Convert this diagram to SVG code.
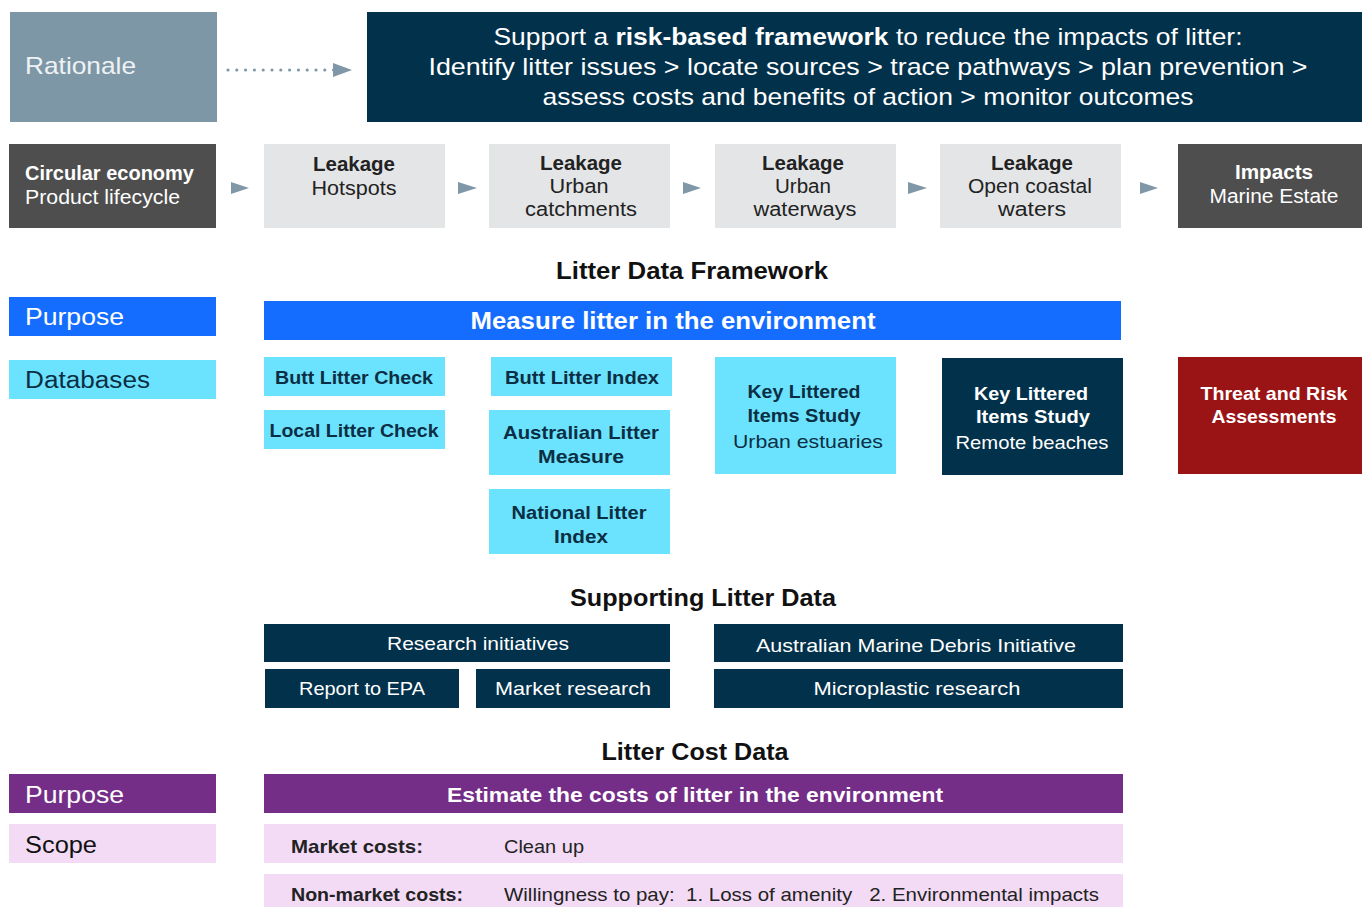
<svg xmlns="http://www.w3.org/2000/svg" width="1362" height="907" viewBox="0 0 1362 907">
<style>
text{font-family:"Liberation Sans",Arial,sans-serif;}
.b{font-weight:bold;}
.m{text-anchor:middle;}
.w{fill:#ffffff;}
.k{fill:#222222;}
.d{fill:#0b2e44;}
.navy{fill:#02314b;}
.cyan{fill:#6be3fe;}
.grey{fill:#e4e5e7;}
.dgrey{fill:#4e4e4e;}
.blue{fill:#146dff;}
.purple{fill:#742e87;}
.pink{fill:#f3dbf6;}
.red{fill:#9a1415;}
.f24{font-size:24px;}
.f20{font-size:20px;}
.f19{font-size:19px;}
.f23{font-size:23px;}
</style>
<defs>
<marker id="tri" viewBox="0 0 10 10" refX="10" refY="5" markerWidth="10" markerHeight="10" markerUnits="userSpaceOnUse" orient="auto"><path d="M0,0 L10,5 L0,10 z" fill="#7f97a6"/></marker>
</defs>

<g id="connectors" fill="#7f97a6">
<line x1="228" y1="70" x2="334" y2="70" stroke="#7f97a6" stroke-width="3.2" stroke-linecap="round" stroke-dasharray="0 8.8"/>
<path d="M333,63 L352,70 L333,77 z"/>
<path d="M231,182 L249,188 L231,194 z"/>
<path d="M458,182 L477,188 L458,194 z"/>
<path d="M683,182 L701,188 L683,194 z"/>
<path d="M908,182 L927,188 L908,194 z"/>
<path d="M1140,182 L1158,188 L1140,194 z"/>
</g>

<g id="rationale"><rect x="10" y="12" width="207" height="110" fill="#7e97a6"/><text x="25" y="74" class="f24" fill="#eef2f4" lengthAdjust="spacingAndGlyphs" textLength="111">Rationale</text></g>
<g id="framework-goal"><rect x="367" y="12" width="995" height="110" class="navy"/>
<text x="868" y="45" class="f24 w m" lengthAdjust="spacingAndGlyphs" textLength="749">Support a <tspan class="b">risk-based framework</tspan> to reduce the impacts of litter:</text>
<text x="868" y="75" class="f24 w m" lengthAdjust="spacingAndGlyphs" textLength="879">Identify litter issues &gt; locate sources &gt; trace pathways &gt; plan prevention &gt;</text>
<text x="868" y="105" class="f24 w m" lengthAdjust="spacingAndGlyphs" textLength="651">assess costs and benefits of action &gt; monitor outcomes</text></g>

<g id="circular"><rect x="9" y="144" width="207" height="84" class="dgrey"/>
<text x="25" y="180" class="f20 w b" lengthAdjust="spacingAndGlyphs" textLength="169">Circular economy</text>
<text x="25" y="204" class="f20 w" lengthAdjust="spacingAndGlyphs" textLength="155">Product lifecycle</text></g>
<g id="hotspots"><rect x="264" y="144" width="181" height="84" class="grey"/>
<text x="354" y="171" class="f20 k b m" lengthAdjust="spacingAndGlyphs" textLength="82">Leakage</text>
<text x="354" y="195" class="f20 k m" lengthAdjust="spacingAndGlyphs" textLength="85">Hotspots</text></g>
<g id="catchments"><rect x="489" y="144" width="181" height="84" class="grey"/>
<text x="581" y="170" class="f20 k b m" lengthAdjust="spacingAndGlyphs" textLength="82">Leakage</text>
<text x="579" y="193" class="f20 k m" lengthAdjust="spacingAndGlyphs" textLength="59">Urban</text>
<text x="581" y="216" class="f20 k m" lengthAdjust="spacingAndGlyphs" textLength="112">catchments</text></g>
<g id="waterways"><rect x="715" y="144" width="181" height="84" class="grey"/>
<text x="803" y="170" class="f20 k b m" lengthAdjust="spacingAndGlyphs" textLength="82">Leakage</text>
<text x="803" y="193" class="f20 k m" lengthAdjust="spacingAndGlyphs" textLength="56">Urban</text>
<text x="805" y="216" class="f20 k m" lengthAdjust="spacingAndGlyphs" textLength="103">waterways</text></g>
<g id="coastal"><rect x="940" y="144" width="181" height="84" class="grey"/>
<text x="1032" y="170" class="f20 k b m" lengthAdjust="spacingAndGlyphs" textLength="82">Leakage</text>
<text x="1030" y="193" class="f20 k m" lengthAdjust="spacingAndGlyphs" textLength="124">Open coastal</text>
<text x="1032" y="216" class="f20 k m" lengthAdjust="spacingAndGlyphs" textLength="68">waters</text></g>
<g id="impacts"><rect x="1178" y="144" width="184" height="84" class="dgrey"/>
<text x="1274" y="179" class="f20 w b m" lengthAdjust="spacingAndGlyphs" textLength="78">Impacts</text>
<text x="1274" y="203" class="f20 w m" lengthAdjust="spacingAndGlyphs" textLength="129">Marine Estate</text></g>

<g id="title-framework"><text x="692" y="279" class="f23 b m" fill="#111" lengthAdjust="spacingAndGlyphs" textLength="272">Litter Data Framework</text></g>
<g id="purpose1"><rect x="9" y="297" width="207" height="39" class="blue"/><text x="25" y="325" class="f23 w" lengthAdjust="spacingAndGlyphs" textLength="99">Purpose</text></g>
<g id="measure"><rect x="264" y="301" width="857" height="39" class="blue"/><text x="673" y="329" class="f23 w b m" lengthAdjust="spacingAndGlyphs" textLength="405">Measure litter in the environment</text></g>
<g id="databases"><rect x="9" y="360" width="207" height="39" class="cyan"/><text x="25" y="388" class="f23 d" lengthAdjust="spacingAndGlyphs" textLength="125">Databases</text></g>
<g id="butt-check"><rect x="264" y="357" width="181" height="39" class="cyan"/><text x="354" y="384" class="f19 d b m" lengthAdjust="spacingAndGlyphs" textLength="158">Butt Litter Check</text></g>
<g id="local-check"><rect x="264" y="410" width="181" height="39" class="cyan"/><text x="354" y="437" class="f19 d b m" lengthAdjust="spacingAndGlyphs" textLength="169">Local Litter Check</text></g>
<g id="butt-index"><rect x="491" y="357" width="181" height="39" class="cyan"/><text x="582" y="384" class="f19 d b m" lengthAdjust="spacingAndGlyphs" textLength="154">Butt Litter Index</text></g>
<g id="alm"><rect x="489" y="410" width="181" height="65" class="cyan"/>
<text x="581" y="439" class="f19 d b m" lengthAdjust="spacingAndGlyphs" textLength="156">Australian Litter</text>
<text x="581" y="463" class="f19 d b m" lengthAdjust="spacingAndGlyphs" textLength="86">Measure</text></g>
<g id="nli"><rect x="489" y="489" width="181" height="65" class="cyan"/>
<text x="579" y="519" class="f19 d b m" lengthAdjust="spacingAndGlyphs" textLength="135">National Litter</text>
<text x="581" y="543" class="f19 d b m" lengthAdjust="spacingAndGlyphs" textLength="54">Index</text></g>
<g id="klis-urban"><rect x="715" y="357" width="181" height="117" class="cyan"/>
<text x="804" y="398" class="f19 d b m" lengthAdjust="spacingAndGlyphs" textLength="113">Key Littered</text>
<text x="804" y="422" class="f19 d b m" lengthAdjust="spacingAndGlyphs" textLength="113">Items Study</text>
<text x="808" y="448" class="f19 d m" lengthAdjust="spacingAndGlyphs" textLength="150">Urban estuaries</text></g>
<g id="klis-remote"><rect x="942" y="358" width="181" height="117" class="navy"/>
<text x="1031" y="400" class="f19 w b m" lengthAdjust="spacingAndGlyphs" textLength="114">Key Littered</text>
<text x="1033" y="423" class="f19 w b m" lengthAdjust="spacingAndGlyphs" textLength="114">Items Study</text>
<text x="1032" y="449" class="f19 w m" lengthAdjust="spacingAndGlyphs" textLength="153">Remote beaches</text></g>
<g id="threat"><rect x="1178" y="357" width="184" height="117" class="red"/>
<text x="1274" y="400" class="f19 w b m" lengthAdjust="spacingAndGlyphs" textLength="147">Threat and Risk</text>
<text x="1274" y="423" class="f19 w b m" lengthAdjust="spacingAndGlyphs" textLength="125">Assessments</text></g>

<g id="title-supporting"><text x="703" y="606" class="f23 b m" fill="#111" lengthAdjust="spacingAndGlyphs" textLength="266">Supporting Litter Data</text></g>
<g id="research"><rect x="264" y="624" width="406" height="38" class="navy"/><text x="478" y="650" class="f19 w m" lengthAdjust="spacingAndGlyphs" textLength="182">Research initiatives</text></g>
<g id="epa"><rect x="265" y="669" width="194" height="39" class="navy"/><text x="362" y="695" class="f19 w m" lengthAdjust="spacingAndGlyphs" textLength="126">Report to EPA</text></g>
<g id="market-research"><rect x="476" y="669" width="194" height="39" class="navy"/><text x="573" y="695" class="f19 w m" lengthAdjust="spacingAndGlyphs" textLength="156">Market research</text></g>
<g id="amdi"><rect x="714" y="624" width="409" height="38" class="navy"/><text x="916" y="652" class="f19 w m" lengthAdjust="spacingAndGlyphs" textLength="320">Australian Marine Debris Initiative</text></g>
<g id="microplastic"><rect x="714" y="669" width="409" height="39" class="navy"/><text x="917" y="695" class="f19 w m" lengthAdjust="spacingAndGlyphs" textLength="207">Microplastic research</text></g>

<g id="title-cost"><text x="695" y="760" class="f23 b m" fill="#111" lengthAdjust="spacingAndGlyphs" textLength="187">Litter Cost Data</text></g>
<g id="purpose2"><rect x="9" y="774" width="207" height="39" class="purple"/><text x="25" y="803" class="f23 w" lengthAdjust="spacingAndGlyphs" textLength="99">Purpose</text></g>
<g id="estimate"><rect x="264" y="774" width="859" height="39" class="purple"/><text x="695" y="802" class="f20 w b m" lengthAdjust="spacingAndGlyphs" textLength="496">Estimate the costs of litter in the environment</text></g>
<g id="scope"><rect x="9" y="824" width="207" height="39" class="pink"/><text x="25" y="853" class="f23" fill="#111" lengthAdjust="spacingAndGlyphs" textLength="72">Scope</text></g>
<g id="market-costs"><rect x="264" y="824" width="859" height="39" class="pink"/>
<text x="291" y="853" class="f19 b" fill="#222" lengthAdjust="spacingAndGlyphs" textLength="132">Market costs:</text>
<text x="504" y="853" class="f19" fill="#222" lengthAdjust="spacingAndGlyphs" textLength="80">Clean up</text></g>
<g id="non-market-costs"><rect x="264" y="874" width="859" height="40" class="pink"/>
<text x="291" y="901" class="f19 b" fill="#222" lengthAdjust="spacingAndGlyphs" textLength="172">Non-market costs:</text>
<text x="504" y="901" class="f19" fill="#222" xml:space="preserve" lengthAdjust="spacingAndGlyphs" textLength="595">Willingness to pay:  1. Loss of amenity   2. Environmental impacts</text></g>
</svg>
